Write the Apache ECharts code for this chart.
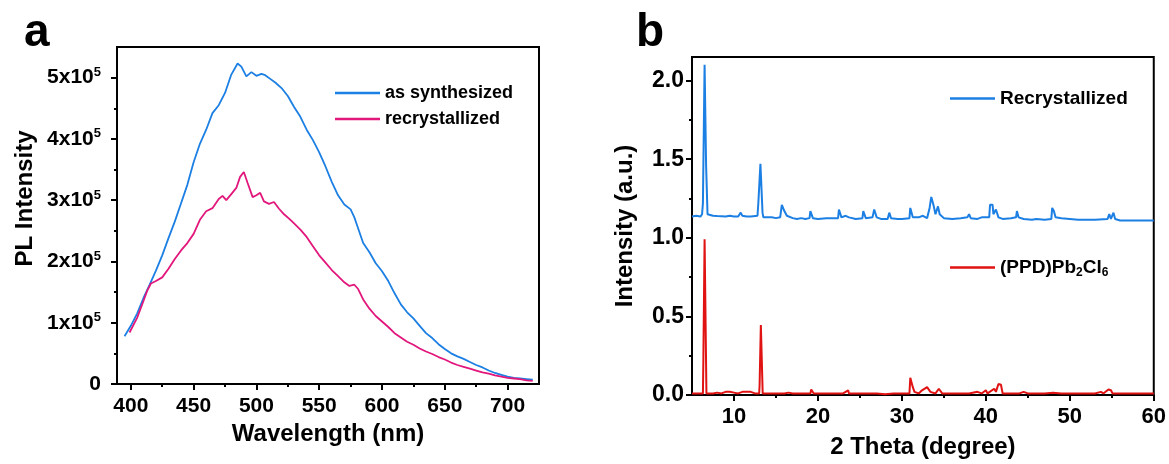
<!DOCTYPE html>
<html>
<head>
<meta charset="utf-8">
<script src="https://cdn.jsdelivr.net/npm/echarts@6/dist/echarts.min.js"></script>
<style>
html,body{margin:0;padding:0;background:#fff;}
#chart{width:1169px;height:464px;}
</style>
</head>
<body>
<div id="chart"></div>
<script>
// ---------- Panel a: PL spectra ----------
const synWavelength = [395,400,405,410,415,420,425,430,435,440,445,450,455,460,465,470,475,480,485,488,492,496,500,504,507,511,515,520,525,530,535,540,545,550,555,560,565,570,575,578,580,585,590,595,600,605,610,615,620,625,630,635,640,645,650,655,660,665,670,675,680,685,690,695,700,705,710,715,720];
const synIntensity = [78000,95000,115000,140000,162000,185000,210000,238000,265000,295000,325000,362000,392000,415000,442000,455000,475000,505000,523000,518000,502000,509000,503000,506000,504000,498000,492000,483000,470000,452000,436000,415000,398000,378000,355000,330000,308000,293000,285000,272000,260000,230000,215000,197000,184000,168000,148000,130000,117000,107000,95000,83000,75000,65000,57000,50000,45000,41000,36000,31000,27000,22000,18000,15000,12000,10000,9000,8000,7000];
const recWavelength = [399,405,410,413,416,420,425,430,435,440,445,450,455,460,465,470,473,476,480,484,487,490,493,497,500,503,506,510,514,518,522,526,530,535,540,545,550,555,560,565,570,574,578,581,585,590,595,600,605,610,615,620,625,630,635,640,645,650,655,660,665,670,675,680,685,690,695,700,705,710,715,720];
const recIntensity = [84000,108000,135000,152000,164000,168000,174000,188000,204000,218000,230000,245000,268000,282000,287000,302000,307000,300000,310000,320000,338000,346000,328000,305000,308000,312000,298000,294000,297000,286000,277000,270000,262000,252000,240000,225000,210000,198000,186000,176000,166000,160000,162000,155000,138000,123000,111000,102000,93000,83000,76000,69000,64000,58000,53000,49000,44000,40000,35000,31000,28000,25000,22000,19000,17000,14000,12000,10000,9000,8000,6000,5000];
const plMajorX = [400,450,500,550,600,650,700];
const plMinorX = [425,475,525,575,625,675];
const plMajorY = [0,100000,200000,300000,400000,500000];
const plMinorY = [50000,150000,250000,350000,450000];

// ---------- Panel b: XRD ----------
const xrdRecTheta = [5.0,5.5,6.0,6.2,6.3,6.45,6.5,6.62,6.68,6.8,6.85,7.0,7.5,8.0,9.0,9.5,10.0,10.5,10.8,11.0,11.5,12.0,12.8,12.9,13.1,13.15,13.3,13.4,13.5,14.0,14.5,15.0,15.5,15.7,15.9,16.0,16.3,16.5,17,17.5,18,18.5,19.0,19.1,19.3,19.4,20,21,22,22.4,22.5,22.7,22.8,23.3,23.5,23.7,24.5,25.3,25.4,25.6,25.7,26.5,26.7,26.9,27.0,27.5,28.3,28.5,28.7,29.5,30,30.9,31.0,31.2,31.3,32,32.5,33.0,33.3,33.5,33.7,33.8,34.0,34.3,34.5,35,36,37,37.8,38,38.2,39,39.5,40.4,40.5,40.8,40.9,41.2,41.5,42,43,43.6,43.7,43.9,44.5,45.5,46,47,47.8,47.9,48.1,48.3,49,50,51,52,53,54.5,54.7,54.9,55.2,55.4,56,57,58,59,60];
const xrdRecIntensity = [1.135,1.14,1.135,1.15,1.22,1.22,2.10,2.10,1.46,1.46,1.15,1.14,1.14,1.138,1.135,1.14,1.135,1.135,1.16,1.14,1.135,1.135,1.14,1.22,1.22,1.47,1.47,1.16,1.13,1.13,1.13,1.125,1.13,1.21,1.21,1.17,1.14,1.13,1.125,1.12,1.125,1.12,1.125,1.17,1.17,1.125,1.12,1.125,1.125,1.125,1.18,1.18,1.13,1.14,1.15,1.13,1.12,1.125,1.17,1.17,1.125,1.13,1.18,1.18,1.13,1.12,1.12,1.16,1.125,1.12,1.12,1.125,1.19,1.19,1.13,1.13,1.14,1.125,1.19,1.26,1.26,1.20,1.15,1.20,1.15,1.125,1.12,1.125,1.13,1.15,1.125,1.12,1.13,1.13,1.21,1.21,1.15,1.18,1.13,1.12,1.125,1.13,1.17,1.13,1.12,1.115,1.12,1.115,1.12,1.19,1.17,1.13,1.125,1.12,1.115,1.115,1.115,1.12,1.15,1.12,1.16,1.12,1.11,1.11,1.11,1.11,1.11];
const xrdRefTheta = [5.0,6.0,6.3,6.35,6.45,6.5,6.65,6.72,7.5,8.0,8.5,9.0,9.5,10.0,10.5,11.0,12.0,12.5,13.0,13.05,13.15,13.2,13.35,13.42,14,15,16,16.5,17,18,19.1,19.2,19.4,19.5,20,21,22,23.0,23.2,23.6,23.7,25,26,27,28,29,30,30.9,31.0,31.2,31.3,31.5,32,32.4,32.6,33.0,33.2,33.4,34,34.4,34.6,34.8,36,37,38,39,39.5,40,40.2,41.0,41.2,41.5,41.8,42.0,43,44,44.5,45,46,47,48,49,50,51,52,53,53.7,54,54.6,54.9,55.1,56,57,58,59,60];
const xrdRefIntensity = [0.01,0.01,0.01,0.21,0.21,0.99,0.98,0.01,0.01,0.015,0.01,0.02,0.02,0.015,0.01,0.02,0.02,0.01,0.01,0.06,0.06,0.445,0.44,0.01,0.01,0.01,0.01,0.015,0.01,0.01,0.01,0.035,0.035,0.01,0.01,0.01,0.01,0.01,0.02,0.03,0.01,0.01,0.01,0.01,0.005,0.01,0.01,0.01,0.11,0.115,0.05,0.02,0.01,0.03,0.02,0.05,0.05,0.02,0.01,0.04,0.04,0.01,0.01,0.01,0.01,0.02,0.01,0.03,0.01,0.04,0.02,0.07,0.065,0.01,0.01,0.01,0.02,0.01,0.01,0.01,0.015,0.01,0.01,0.01,0.01,0.01,0.02,0.01,0.035,0.03,0.01,0.01,0.01,0.01,0.01,0.01];
const xrdMajorX = [10,20,30,40,50,60];
const xrdMinorX = [15,25,35,45,55];
const xrdMajorY = [0,0.5,1.0,1.5,2.0];
const xrdMinorY = [0.25,0.75,1.25,1.75];

const FONT = '"Liberation Sans", Arial, sans-serif';
const BLUE = '#1c7fe3';
const PINK = '#e2177c';
const RED = '#e01212';

function pairs(xs, ys){ return xs.map((x,i)=>[x, ys[i]]); }

function mainAxis(extra){
  return Object.assign({
    type:'value',
    axisLine:{show:true, onZero:false, lineStyle:{color:'#000', width:2}},
    splitLine:{show:false},
    nameTextStyle:{fontFamily:FONT, fontWeight:'bold', fontSize:24, color:'#000'}
  }, extra);
}
function minorAxis(extra){
  return Object.assign({
    type:'value',
    axisLine:{show:false},
    axisLabel:{show:false},
    splitLine:{show:false}
  }, extra);
}
function majorTicks(vals){ return {show:true, inside:false, length:6, lineStyle:{color:'#000', width:2}, customValues:vals}; }
function minorTicks(vals){ return {show:true, inside:false, length:3, lineStyle:{color:'#000', width:2}, customValues:vals}; }
const labelStyle = {fontFamily:FONT, fontWeight:'bold', fontSize:21, color:'#000'};

function legendItem(name, color, left, top, fontSize, extra){
  return Object.assign({
    data:[{name:name, icon:'rect', itemStyle:{color:color}}],
    left:left, top:top, itemWidth:45, itemHeight:2.5, padding:0,
    textStyle:{fontFamily:FONT, fontWeight:'bold', fontSize:fontSize, color:'#000'}
  }, extra || {});
}

const chart = echarts.init(document.getElementById('chart'), null, {renderer:'canvas'});
chart.setOption({
  animation:false,
  backgroundColor:'#fff',
  graphic:[
    {type:'text', left:24, top:10, style:{text:'a', fill:'#000', font:'bold 46px ' + FONT}},
    {type:'text', left:636, top:10, style:{text:'b', fill:'#000', font:'bold 46px ' + FONT}}
  ],
  grid:[
    {left:117, top:47, width:422, height:337, show:true, borderColor:'#000', borderWidth:2},
    {left:692, top:57, width:462, height:341, show:true, borderColor:'#000', borderWidth:2}
  ],
  legend:[
    legendItem('as synthesized', BLUE, 335, 84, 18),
    legendItem('recrystallized', PINK, 335, 110, 18),
    legendItem('Recrystallized', BLUE, 950, 89, 19),
    legendItem('(PPD)Pb2Cl6', RED, 950, 258, 19, {
      formatter:function(){ return '{n|(PPD)Pb}{s|2}{n|Cl}{s|6}'; },
      textStyle:{color:'#000', rich:{
        n:{fontFamily:FONT, fontWeight:'bold', fontSize:19, color:'#000'},
        s:{fontFamily:FONT, fontWeight:'bold', fontSize:12, color:'#000', padding:[10,0,0,0]}
      }}
    })
  ],
  xAxis:[
    mainAxis({gridIndex:0, min:389, max:725, position:'bottom',
      name:'Wavelength (nm)', nameLocation:'middle', nameGap:38,
      axisTick:majorTicks(plMajorX),
      axisLabel:Object.assign({customValues:plMajorX, margin:12}, labelStyle)}),
    minorAxis({gridIndex:0, min:389, max:725, position:'bottom', axisTick:minorTicks(plMinorX)}),
    mainAxis({gridIndex:1, min:5, max:60, position:'bottom',
      name:'2 Theta (degree)', nameLocation:'middle', nameGap:40,
      axisTick:majorTicks(xrdMajorX),
      axisLabel:Object.assign({customValues:xrdMajorX, margin:11}, labelStyle, {fontSize:22})}),
    minorAxis({gridIndex:1, min:5, max:60, position:'bottom', axisTick:minorTicks(xrdMinorX)})
  ],
  yAxis:[
    mainAxis({gridIndex:0, min:0, max:550000, position:'left',
      name:'PL Intensity', nameLocation:'middle', nameGap:80,
      nameTextStyle:{fontFamily:FONT, fontWeight:'bold', fontSize:24, color:'#000', padding:[0,0,0,34]},
      axisTick:majorTicks(plMajorY),
      axisLabel:{customValues:plMajorY, margin:16,
        formatter:function(v){ return v === 0 ? '{b|0}' : '{b|' + (v/100000) + 'x10}{s|5}'; },
        rich:{
          b:{fontFamily:FONT, fontWeight:'bold', fontSize:21, color:'#000'},
          s:{fontFamily:FONT, fontWeight:'bold', fontSize:13, color:'#000', padding:[0,0,10,0]}
        }}}),
    minorAxis({gridIndex:0, min:0, max:550000, position:'left', axisTick:minorTicks(plMinorY)}),
    mainAxis({gridIndex:1, min:0, max:2.15, position:'left',
      name:'Intensity (a.u.)', nameLocation:'middle', nameGap:55,
      axisTick:majorTicks(xrdMajorY),
      axisLabel:Object.assign({customValues:xrdMajorY, margin:8,
        formatter:function(v){ return v.toFixed(1); }}, labelStyle, {fontSize:23})}),
    minorAxis({gridIndex:1, min:0, max:2.15, position:'left', axisTick:minorTicks(xrdMinorY)})
  ],
  series:[
    {name:'as synthesized', type:'line', xAxisIndex:0, yAxisIndex:0, symbol:'none',
     data:pairs(synWavelength, synIntensity), lineStyle:{color:BLUE, width:1.8}, itemStyle:{color:BLUE}},
    {name:'recrystallized', type:'line', xAxisIndex:0, yAxisIndex:0, symbol:'none',
     data:pairs(recWavelength, recIntensity), lineStyle:{color:PINK, width:1.8}, itemStyle:{color:PINK}},
    {name:'Recrystallized', type:'line', xAxisIndex:2, yAxisIndex:2, symbol:'none',
     data:pairs(xrdRecTheta, xrdRecIntensity), lineStyle:{color:BLUE, width:2}, itemStyle:{color:BLUE}},
    {name:'(PPD)Pb2Cl6', type:'line', xAxisIndex:2, yAxisIndex:2, symbol:'none',
     data:pairs(xrdRefTheta, xrdRefIntensity), lineStyle:{color:RED, width:2}, itemStyle:{color:RED}}
  ]
});
</script>
</body>
</html>
